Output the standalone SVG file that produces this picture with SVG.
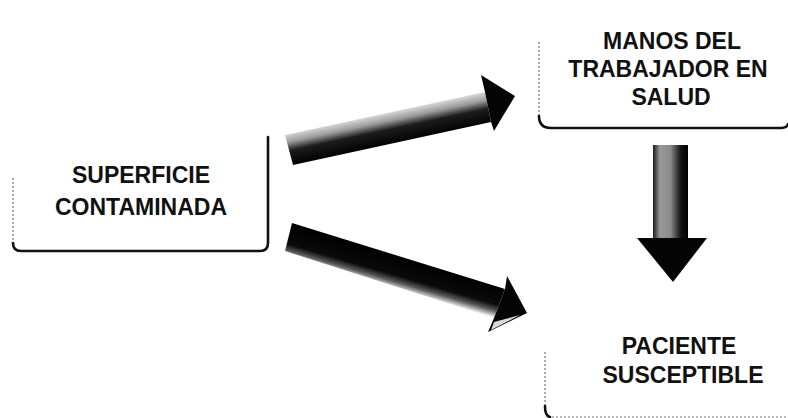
<svg xmlns="http://www.w3.org/2000/svg" width="788" height="418" viewBox="0 0 788 418">
  <style>
    .label { font-family: "Liberation Sans", Arial, sans-serif; font-weight: bold; font-size: 23px; fill: #111; text-anchor: middle; }
    .edge { fill: none; stroke: #111; stroke-width: 2.6; stroke-linecap: round; stroke-linejoin: round; }
    .faint { fill: none; stroke: #777; stroke-width: 1.2; stroke-dasharray: 2 2; }
    .arrow-head { fill: #050505; }
  </style>
  <defs>
    <linearGradient id="gradUp" gradientUnits="userSpaceOnUse" x1="387" y1="111" x2="394" y2="144">
      <stop offset="0" stop-color="#e6e6e6"/>
      <stop offset="0.3" stop-color="#9a9a9a"/>
      <stop offset="0.55" stop-color="#1c1c1c"/>
      <stop offset="1" stop-color="#000"/>
    </linearGradient>
    <linearGradient id="gradDown" gradientUnits="userSpaceOnUse" x1="392" y1="254" x2="383" y2="285">
      <stop offset="0" stop-color="#000"/>
      <stop offset="0.6" stop-color="#0a0a0a"/>
      <stop offset="0.8" stop-color="#5a5a5a"/>
      <stop offset="1" stop-color="#eeeeee"/>
    </linearGradient>
    <linearGradient id="gradVert" gradientUnits="userSpaceOnUse" x1="653" y1="0" x2="688" y2="0">
      <stop offset="0" stop-color="#1a1a1a"/>
      <stop offset="0.2" stop-color="#9a9a9a"/>
      <stop offset="0.5" stop-color="#8a8a8a"/>
      <stop offset="0.8" stop-color="#111"/>
      <stop offset="1" stop-color="#000"/>
    </linearGradient>
  </defs>

  <rect width="788" height="418" fill="#fff"/>

  <!-- nodes -->
  <g id="node-superficie">
    <path class="faint" d="M13 178 V245"/>
    <path class="edge" d="M13 243 Q13 251 21 251 H260 Q268 251 268 243 V137"/>
    <text class="label" x="141" y="183">SUPERFICIE</text>
    <text class="label" x="141" y="215">CONTAMINADA</text>
  </g>

  <g id="node-manos">
    <path class="faint" d="M539 42 V118"/>
    <path class="edge" d="M539 116 Q539 128 551 128 H781 Q787 128 788 124"/>
    <text class="label" x="672" y="49">MANOS DEL</text>
    <text class="label" x="668" y="77">TRABAJADOR EN</text>
    <text class="label" x="671" y="105">SALUD</text>
  </g>

  <g id="node-paciente">
    <path class="faint" d="M545 352 V408"/>
    <path class="edge" d="M545 406 Q545 416 550 417"/>
    <path class="faint" d="M552 417 H788" stroke-dasharray="2 9"/>
    <text class="label" x="679" y="354">PACIENTE</text>
    <text class="label" x="683" y="383">SUSCEPTIBLE</text>
  </g>

  <!-- connectors -->
  <g id="connectors">
    <g id="arrow-superficie-manos">
      <polygon points="285,135 485,92 491,122 293,165" fill="url(#gradUp)"/>
      <polygon class="arrow-head" points="485,92 481,75 515,96 494,131 491,122"/>
    </g>
    <g id="arrow-superficie-paciente">
      <polygon points="292,223 505,289 494,318 285,251" fill="url(#gradDown)"/>
      <polygon class="arrow-head" points="505,289 507,276 527,313 488,332 494,318"/>
      <polygon points="494,322 520,315 491,330" fill="#d8d8d8"/>
    </g>
    <g id="arrow-manos-paciente">
      <polygon points="653,145 688,145 688,238 653,238" fill="url(#gradVert)"/>
      <polygon class="arrow-head" points="637,238 707,238 673,282"/>
    </g>
  </g>
</svg>
